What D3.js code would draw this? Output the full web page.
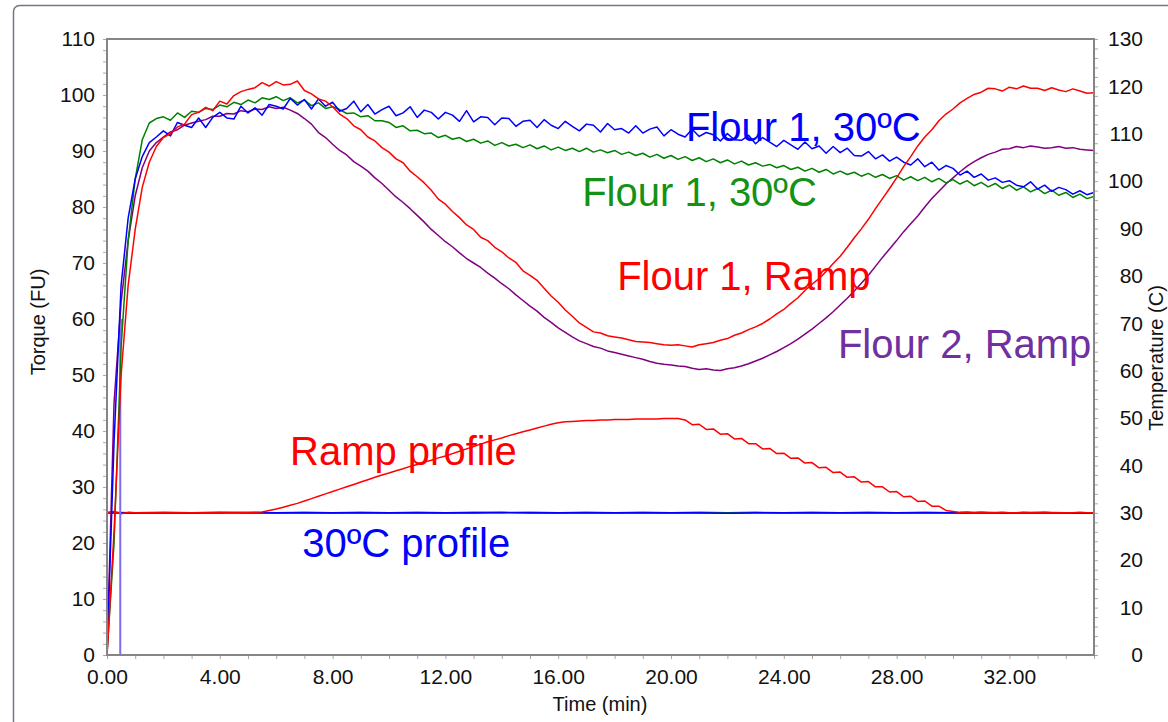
<!DOCTYPE html>
<html>
<head>
<meta charset="utf-8">
<script src="https://cdn.jsdelivr.net/npm/d3@7"></script>
<style>
  html, body { margin: 0; padding: 0; background: #fff; overflow: hidden; }
  svg { display: block; font-family: "Liberation Sans", Arial, sans-serif; }
</style>
</head>
<body>
<svg id="chart" width="1168" height="722"></svg>
<script>
// Sampling grid of the mixer log (min)
const minutes = d3.range(0, 35.001, 0.25);

// Torque (FU), one row per minute (4 samples each)
const torqueF1Ramp = [
  0, 22, 50, 66,
  76, 83.5, 88, 90.8,
  92.4, 93.1, 94.3, 94.8,
  96.5, 96.9, 97.8, 97.2,
  98.9, 98.4, 99.9, 100.6,
  101, 101.3, 102.2, 101.6,
  102.4, 101.8, 101.9, 102.5,
  100.8, 100.2, 99.3, 98.9,
  97.9, 96.6, 95.8, 94.5,
  93.8, 92.5, 91.8, 90.6,
  89.8, 88.6, 87.9, 86.4,
  85.4, 84.3, 83, 81.4,
  80.5, 79.2, 78.1, 76.8,
  76, 74.6, 74, 72.8,
  72, 70.9, 70.1, 68.6,
  67.8, 66.9, 65.5, 64.1,
  63, 61.6, 60.5, 59.3,
  58.5, 57.7, 57.5, 57.0,
  56.8, 56.6, 56.3, 56.0,
  55.9, 55.8, 55.6, 55.4,
  55.3, 55.4, 55.2, 55.0,
  55.4, 55.6, 55.8, 56.2,
  56.5, 57.1, 57.5, 58.1,
  58.6, 59.2, 60, 60.9,
  61.7, 62.8, 63.8, 65.1,
  66.2, 67.2, 68.5, 69.9,
  71.2, 72.8, 74.5, 76.1,
  77.8, 79.7, 81.5, 83.3,
  85.2, 87.2, 89, 90.9,
  92.5, 93.8, 95.4, 96.6,
  97.5, 98.6, 99.4, 100.1,
  100.5, 101.2, 101.1, 100.7,
  101.4, 101.1, 101.6, 101.2,
  101.2, 100.8, 101.3, 100.9,
  100.6, 101.1, 100.7, 100.3,
  100.4
];

const torqueF2Ramp = [
  0, 45, 63, 74,
  82, 87, 90, 91.5,
  92.5, 93.4, 93.8, 94.6,
  95, 95.3, 95.6, 96.2,
  96.2, 96.7, 96.6, 97.2,
  97, 97.5, 97.4, 97.9,
  97.6, 97.8, 97.3, 96.7,
  95.8, 94.8, 93.3, 92.4,
  91.2, 90.1, 89.3, 88.1,
  87.3, 86.4, 85.2, 84.2,
  83, 81.8, 80.8, 79.7,
  78.5, 77.3, 76, 74.9,
  73.8, 72.9, 71.8, 70.8,
  70, 69.2, 68.2, 67.3,
  66.3, 65.4, 64.3, 63.3,
  62.3, 61.4, 60.3, 59.4,
  58.4, 57.6, 56.8, 56.1,
  55.6, 55.1, 54.8, 54.3,
  54, 53.7, 53.4, 53.1,
  52.8, 52.4, 52.1, 51.9,
  51.8, 51.6, 51.5, 51.2,
  51, 51.1, 50.9, 50.8,
  51.1, 51.3, 51.6, 52,
  52.5, 53, 53.6, 54.2,
  54.9, 55.6, 56.4, 57.3,
  58.2, 59.2, 60.2, 61.3,
  62.5, 63.7, 65, 66.4,
  67.8, 69.4, 71, 72.5,
  74, 75.6, 77, 78.4,
  80, 81.5, 82.8, 84.1,
  85.2, 86.3, 87.3, 88.1,
  88.8, 89.4, 89.8, 90.3,
  90.4, 90.8, 90.6, 90.9,
  90.7, 90.5, 90.6, 90.8,
  90.5, 90.6, 90.3, 90.2,
  90.1
];

const torqueF1At30Blue = [
  0, 38, 66, 78,
  85, 89, 91.5, 92.5,
  93.6, 92.7, 95.1, 94.6,
  94.2, 95.9, 94.2, 96.0,
  96.9, 95.9, 95.7, 98.0,
  96.8, 97.7, 96.4, 98.3,
  98.0, 97.5, 99.4, 98.2,
  99.2, 97.5, 99.3, 98.0,
  98.7, 97.1, 97.6, 98.9,
  97.0, 98.3, 96.6, 97.4,
  98.0, 96.3, 96.8, 97.9,
  96.0, 97.3, 96.9, 95.7,
  96.9, 96.4, 95.3, 97.2,
  95.2, 96.1, 96.0, 94.7,
  95.9, 95.8, 94.4, 95.3,
  95.5, 94.2, 95.6, 94.6,
  94.0, 95.3, 94.4, 93.6,
  94.8, 94.6, 93.4, 94.9,
  93.8, 94.0, 93.2, 94.5,
  93.2, 93.9, 94.3, 92.7,
  93.8, 93.0, 92.5, 93.9,
  92.6, 93.3, 92.9, 91.8,
  93.1, 92.0, 91.9, 92.8,
  91.3, 92.4, 91.6, 90.8,
  91.9, 91.1, 90.3, 91.6,
  90.4, 90.9, 89.6, 90.8,
  89.7, 90.5, 89.2, 89.1,
  89.9, 88.6, 89.3, 88.2,
  88.9, 88.0, 87.5, 88.6,
  87.2, 88.0, 86.6, 87.4,
  86.9, 85.7, 86.4, 85.3,
  85.9, 84.8, 85.2, 84.4,
  84.7, 83.9, 83.6, 84.5,
  83.2, 83.9, 82.8, 83.5,
  83.1, 82.3, 82.9, 82.2,
  82.6
];

const torqueF1At30Green = [
  0, 20, 55, 74,
  85, 92, 95, 95.8,
  96.1, 95.5, 96.8, 96.0,
  97.1, 96.9, 97.6, 97.4,
  98.2, 97.9, 98.7, 98.3,
  99.1, 98.6, 99.5, 99.2,
  99.7, 99.0, 99.5, 98.6,
  99.1, 98.1, 98.6, 97.6,
  97.9, 97.4, 96.7, 96.8,
  96.1, 96.3, 95.4, 95.4,
  95.1, 94.2, 94.5, 93.6,
  93.7, 93.1, 93.2, 92.4,
  92.8, 92.1, 92.4, 91.7,
  92.1, 91.4, 91.8, 91.0,
  91.5, 90.9, 91.2, 90.6,
  91.1, 90.4, 90.9, 90.2,
  90.7, 90.1, 90.5, 89.9,
  90.5, 89.8, 90.2, 89.7,
  90.1, 89.4, 89.8, 89.2,
  89.6, 88.9, 89.4, 88.7,
  89.2, 88.5, 89.0, 88.3,
  88.8, 88.1, 88.6, 87.9,
  88.4, 87.7, 88.2, 87.5,
  87.9, 87.3, 87.6, 87.0,
  87.4, 86.7, 87.1, 86.4,
  86.9, 86.2, 86.7, 85.9,
  86.4, 85.8, 86.2, 85.5,
  86.0, 85.3, 85.8, 85.1,
  85.6, 84.8, 85.4, 84.7,
  85.3, 84.5, 85.1, 84.3,
  84.9, 84.1, 84.7, 83.8,
  84.4, 83.6, 84.2, 83.3,
  83.9, 83.0, 83.6, 82.7,
  83.3, 82.4, 83.0, 82.1,
  82.6, 81.7, 82.3, 81.5,
  81.9
];

// Bowl temperature of the ramp runs (°C)
const tempRamp = [
  30, 30.3, 29.8, 30.1,
  30, 30, 30, 30,
  30, 30, 30, 30,
  30, 30, 30, 30,
  30, 30, 30, 30,
  30, 30.1, 30.2, 30.5,
  30.8, 31.2, 31.6, 32.0,
  32.5, 33.0, 33.5, 34.0,
  34.5, 35.0, 35.5, 36.0,
  36.5, 37.0, 37.5, 38.0,
  38.4, 38.9, 39.3, 39.8,
  40.2, 40.7, 41.1, 41.6,
  42.0, 42.5, 43.0, 43.5,
  44.0, 44.5, 45.0, 45.4,
  45.8, 46.3, 46.7, 47.1,
  47.5, 47.9, 48.3, 48.7,
  49.0, 49.2, 49.3, 49.4,
  49.5, 49.5, 49.6, 49.6,
  49.7, 49.7, 49.7, 49.8,
  49.8, 49.8, 49.8, 49.9,
  49.9, 49.9, 49.6, 48.6,
  48.7, 47.6, 47.7, 46.6,
  46.7, 45.6, 45.7, 44.6,
  44.6, 43.5, 43.6, 42.5,
  42.6, 41.5, 41.6, 40.5,
  40.6, 39.5, 39.6, 38.5,
  38.6, 37.5, 37.6, 36.5,
  36.6, 35.5, 35.5, 34.4,
  34.5, 33.4, 33.5, 32.4,
  32.5, 31.4, 31.4, 30.5,
  30.3, 30.1, 30.2, 30.0,
  30.1, 30, 30, 30.1,
  30, 30, 30.1, 30,
  30, 30.1, 30, 30,
  30, 30, 30.1, 30,
  30
];

// Bowl temperature of the constant 30ºC runs, logged once per minute
const profileMinutes = d3.range(0, 35.001, 1);
const temp30Blue = [
  30, 30, 30, 30, 30.1, 30, 30, 30, 30, 30, 30, 30,
  30, 30, 30.1, 30, 30, 30, 30, 30, 30, 30, 29.9, 30,
  30, 30, 30, 30, 30, 30, 30, 30, 30, 30, 30, 30
];
const temp30Green = [
  30.1, 30, 30.1, 30, 30, 30.1, 30, 30.1, 30, 30.1, 30, 30.1,
  30, 30.1, 30, 30.1, 30, 30.1, 30, 30.1, 30, 30.1, 30, 30.1,
  30, 30.1, 30, 30.1, 30, 30.1, 30, 30.1, 30, 30.1, 30, 30
];

// Replicate run that started logging late
const lateStartMinutes = [0, 0.47, 0.47, 0.52];
const lateStartTorque = [0, 0, 56, 60];

// Axis ticks
const xMajorTicks = [0, 4, 8, 12, 16, 20, 24, 28, 32];
const torqueTicks = [0, 10, 20, 30, 40, 50, 60, 70, 80, 90, 100, 110];
const tempTicks = [0, 10, 20, 30, 40, 50, 60, 70, 80, 90, 100, 110, 120, 130];

// Curve captions (placed in time / torque units)
const captions = [
  { text: "Flour 1, 30ºC", t: 20.53, v: 91.85, color: "#0000ff" },
  { text: "Flour 1, 30ºC", t: 16.85, v: 80.1, color: "#139213" },
  { text: "Flour 1, Ramp", t: 18.09, v: 65.2, color: "#ff0000" },
  { text: "Flour 2, Ramp", t: 25.92, v: 53.0, color: "#7030a0" },
  { text: "Ramp profile", t: 6.49, v: 34.0, color: "#ff0000" },
  { text: "30ºC profile", t: 6.92, v: 17.5, color: "#0000ff" }
];

const svg = d3.select("#chart");
const box = { left: 107, top: 39, right: 1094, bottom: 655 };

const x = d3.scaleLinear().domain([0, 35]).range([box.left, box.right]);
const yTorque = d3.scaleLinear().domain([0, 110]).range([box.bottom, box.top]);
const yTemp = d3.scaleLinear().domain([0, 130]).range([box.bottom, box.top]);

// Outer panel frame
svg.append("rect")
  .attr("x", 13.5).attr("y", 5.5)
  .attr("width", 1300).attr("height", 900)
  .attr("rx", 6)
  .attr("fill", "none")
  .attr("stroke", "#6f7883")
  .attr("stroke-width", 1.5);

// Axes (tick marks every minute / every 2 units, labels on the majors)
const tickColor = "#a8a8a8";
const styleAxis = g => {
  g.select(".domain").remove();
  g.selectAll(".tick line").attr("stroke", tickColor).attr("stroke-width", 1);
  g.selectAll(".tick text")
    .attr("fill", "#111")
    .style("font-size", "21px")
    .style("font-family", "'Liberation Sans', Arial, sans-serif");
};

svg.append("g")
  .attr("transform", `translate(0,${box.bottom})`)
  .call(d3.axisBottom(x)
    .tickValues(d3.range(0, 35.001, 1))
    .tickSize(4).tickPadding(10)
    .tickFormat(d => xMajorTicks.includes(d) ? d.toFixed(2) : ""))
  .call(styleAxis);

svg.append("g")
  .attr("transform", `translate(${box.left},0)`)
  .call(d3.axisLeft(yTorque)
    .tickValues(d3.range(0, 110.001, 2))
    .tickSize(4).tickPadding(8)
    .tickFormat(d => torqueTicks.includes(d) ? String(d) : ""))
  .call(styleAxis);

svg.append("g")
  .attr("transform", `translate(${box.right},0)`)
  .call(d3.axisRight(yTemp)
    .tickValues(d3.range(0, 130.001, 2))
    .tickSize(4)
    .tickFormat(d => tempTicks.includes(d) ? String(d) : ""))
  .call(styleAxis)
  .call(g => g.selectAll(".tick text").attr("text-anchor", "end").attr("x", 49));

// Axis titles
svg.append("text")
  .attr("transform", `translate(45,322) rotate(-90)`)
  .attr("text-anchor", "middle")
  .style("font-size", "20px")
  .attr("fill", "#111")
  .text("Torque (FU)");

svg.append("text")
  .attr("transform", `translate(1163,358) rotate(-90)`)
  .attr("text-anchor", "middle")
  .style("font-size", "20px")
  .attr("fill", "#111")
  .text("Temperature (C)");

svg.append("text")
  .attr("x", 600).attr("y", 711)
  .attr("text-anchor", "middle")
  .style("font-size", "20px")
  .attr("fill", "#111")
  .text("Time (min)");

// Data layer
svg.append("clipPath").attr("id", "plot-clip")
  .append("rect")
  .attr("x", box.left).attr("y", box.top - 2)
  .attr("width", box.right - box.left).attr("height", box.bottom - box.top + 2);

const plot = svg.append("g").attr("clip-path", "url(#plot-clip)");

const pairs = (ts, vs) => ts.map((t, i) => [t, vs[i]]).filter(d => d[1] !== undefined);

const drawLine = (ts, vs, yScale, color, width) => {
  plot.append("path")
    .datum(pairs(ts, vs))
    .attr("fill", "none")
    .attr("stroke", color)
    .attr("stroke-width", width)
    .attr("stroke-linejoin", "round")
    .attr("d", d3.line().x(d => x(d[0])).y(d => yScale(d[1])));
};

// Temperature traces
drawLine(profileMinutes, temp30Green, yTemp, "#008000", 1.6);
drawLine(profileMinutes, temp30Blue, yTemp, "#0000ff", 1.6);
drawLine(minutes, tempRamp, yTemp, "#ff0000", 1.5);

// Torque traces
drawLine(lateStartMinutes, lateStartTorque, yTorque, "#7f6cf0", 2);
drawLine(minutes, torqueF2Ramp, yTorque, "#800080", 1.5);
drawLine(minutes, torqueF1At30Green, yTorque, "#008000", 1.5);
drawLine(minutes, torqueF1At30Blue, yTorque, "#0000ff", 1.5);
drawLine(minutes, torqueF1Ramp, yTorque, "#ff0000", 1.5);

// Plot frame
svg.append("rect")
  .attr("x", box.left).attr("y", box.top)
  .attr("width", box.right - box.left).attr("height", box.bottom - box.top)
  .attr("fill", "none")
  .attr("stroke", "#858585")
  .attr("stroke-width", 2);

// Curve captions
svg.append("g").selectAll("text")
  .data(captions)
  .join("text")
  .attr("x", d => x(d.t))
  .attr("y", d => yTorque(d.v))
  .attr("fill", d => d.color)
  .style("font-size", "40px")
  .text(d => d.text);
</script>
</body>
</html>
